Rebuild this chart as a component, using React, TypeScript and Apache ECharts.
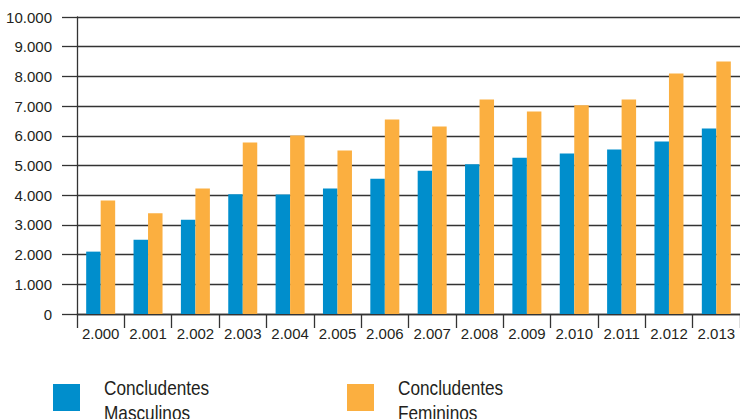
import React, { useEffect, useRef } from "react";
import * as echarts from "echarts";

// Graduates per year, split by sex
const years = [
  "2.000", "2.001", "2.002", "2.003", "2.004", "2.005", "2.006",
  "2.007", "2.008", "2.009", "2.010", "2.011", "2.012", "2.013",
];
const masculinos = [2100, 2500, 3170, 4030, 4025, 4225, 4550, 4820, 5045, 5260, 5405, 5540, 5810, 6250];
const femininos = [3820, 3390, 4225, 5775, 6010, 5505, 6550, 6315, 7225, 6820, 7025, 7225, 8100, 8505];

const seriesNames = ["Concludentes Masculinos", "Concludentes Femininos"];
const yMax = 10000;
const yStep = 1000;

const BLUE = "#008ECC";
const ORANGE = "#FBAF40";
const INK = "#231F20";
const LINE = "#333333";
const AXIS_FONT = "'Liberation Sans', Arial, Helvetica, sans-serif";

// 10000 -> "10.000"
const thousands = (v: number) => String(v).replace(/\B(?=(\d{3})+(?!\d))/g, ".");

// Legend entry: colour swatch plus a two-line, slightly condensed caption
const legendEntry = (name: string, color: string, left: number) => ({
  type: "group",
  left,
  top: 375,
  children: [
    { type: "rect", x: 0, y: 9, shape: { width: 27, height: 27 }, style: { fill: color } },
    {
      type: "text",
      x: 51,
      y: 0,
      scaleX: 0.82,
      style: {
        text: name.replace(" ", "\n"),
        fill: INK,
        font: `21px ${AXIS_FONT}`,
        lineHeight: 25,
        verticalAlign: "top",
        align: "left",
      },
    },
  ],
});

export default function App() {
  const ref = useRef<HTMLDivElement>(null);

  useEffect(() => {
    if (!ref.current) return;
    const chart = echarts.init(ref.current, undefined, { renderer: "svg" });
    chart.setOption({
      animation: false,
      backgroundColor: "#ffffff",
      grid: { left: 77, right: -2, top: 17, bottom: 105, containLabel: false },
      graphic: [
        legendEntry(seriesNames[0], BLUE, 53),
        legendEntry(seriesNames[1], ORANGE, 347),
      ],
      xAxis: {
        type: "category",
        data: years,
        boundaryGap: true,
        axisLine: { show: true, lineStyle: { color: LINE, width: 1.3 } },
        axisTick: {
          show: true,
          alignWithLabel: false,
          inside: false,
          length: 14,
          lineStyle: { color: LINE, width: 1.3 },
        },
        axisLabel: {
          margin: 12,
          interval: 0,
          fontFamily: AXIS_FONT,
          fontSize: 15,
          color: INK,
        },
        splitLine: { show: false },
      },
      yAxis: {
        type: "value",
        min: 0,
        max: yMax,
        interval: yStep,
        axisLine: { show: true, lineStyle: { color: LINE, width: 1.3 } },
        axisTick: { show: true, inside: false, length: 15, lineStyle: { color: LINE, width: 1.3 } },
        axisLabel: {
          margin: 25,
          fontFamily: AXIS_FONT,
          fontSize: 15,
          color: INK,
          padding: [6, 0, 0, 0],
          formatter: (v: number) => thousands(v),
        },
        splitLine: { show: true, lineStyle: { color: LINE, width: 1.3 } },
      },
      series: [
        {
          name: seriesNames[0],
          type: "bar",
          data: masculinos,
          barWidth: 14.5,
          barGap: "0%",
          itemStyle: { color: BLUE },
        },
        {
          name: seriesNames[1],
          type: "bar",
          data: femininos,
          barWidth: 14.5,
          barGap: "0%",
          itemStyle: { color: ORANGE },
        },
      ],
    });
    return () => chart.dispose();
  }, []);

  return (
    <div
      ref={ref}
      style={{ position: "fixed", left: 0, top: 0, width: 740, height: 419 }}
    />
  );
}
